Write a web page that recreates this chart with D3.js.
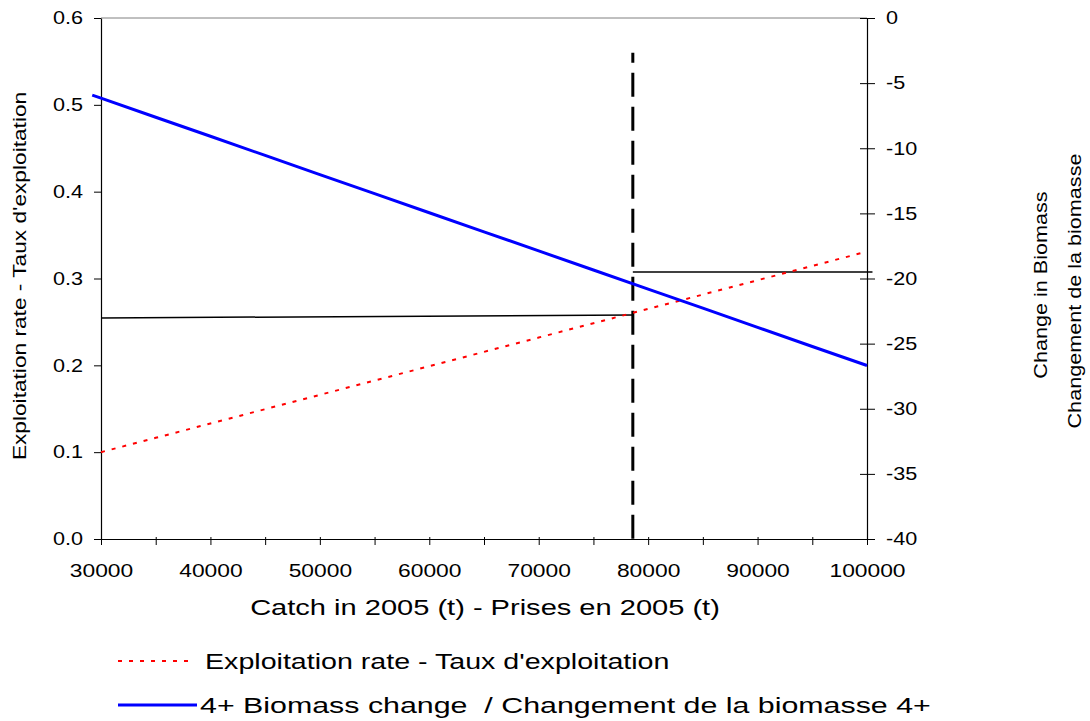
<!DOCTYPE html>
<html>
<head>
<meta charset="utf-8">
<script src="https://cdn.jsdelivr.net/npm/d3@7"></script>
<style>
  html, body { margin: 0; padding: 0; background: #ffffff; }
  svg { display: block; font-family: "Liberation Sans", Arial, sans-serif; }
  text { white-space: pre; }
</style>
</head>
<body>
<svg id="chart" width="1090" height="721"></svg>
<script>
// ---- data ----
const catchValues = [30000, 35000, 40000, 45000, 50000, 55000, 60000, 65000, 70000, 75000, 80000, 85000, 90000, 95000, 100000];
const exploitationRate = [0.100, 0.1165, 0.133, 0.1495, 0.166, 0.1825, 0.199, 0.2155, 0.232, 0.2485, 0.265, 0.2815, 0.298, 0.3145, 0.331];
const biomassCatch = [29200, 30000, 35000, 40000, 45000, 50000, 55000, 60000, 65000, 70000, 75000, 80000, 85000, 90000, 95000, 100000];
const biomassChange = [-5.92, -6.15, -7.62, -9.08, -10.55, -12.02, -13.48, -14.95, -16.42, -17.88, -19.35, -20.82, -22.28, -23.75, -25.22, -26.68];
const refCatch = 78600;
const refLineTop = 0.56;
const refLeftLine = [[30000, 0.2545], [78600, 0.258]];
const refRightLine = [[78600, 0.3075], [100500, 0.3075]];
const xTicks = [30000, 35000, 40000, 45000, 50000, 55000, 60000, 65000, 70000, 75000, 80000, 85000, 90000, 95000, 100000];
const xTickLabels = [30000, 40000, 50000, 60000, 70000, 80000, 90000, 100000];
const yLeftTicks = [0, 0.1, 0.2, 0.3, 0.4, 0.5, 0.6];
const yRightTicks = [0, -5, -10, -15, -20, -25, -30, -35, -40];
const xTitle = "Catch in 2005 (t) - Prises en 2005 (t)";
const yLeftTitle = "Exploitation rate - Taux d'exploitation";
const yRightTitle = ["Change in Biomass", "Changement de la biomasse"];
const legendLabels = ["Exploitation rate - Taux d'exploitation", "4+ Biomass change  / Changement de la biomasse 4+"];

// ---- layout ----
const L = 101, R = 867, T = 18, B = 539;
const svg = d3.select("#chart");
const x = d3.scaleLinear().domain([30000, 100000]).range([L, R]);
const yL = d3.scaleLinear().domain([0, 0.6]).range([B, T]);
const yR = d3.scaleLinear().domain([-40, 0]).range([B, T]);

// top frame line
svg.append("line").attr("x1", L).attr("x2", R).attr("y1", T).attr("y2", T)
  .attr("stroke", "#808080").attr("stroke-width", 1);

// left axis
const gL = svg.append("g").attr("transform", `translate(${L},0)`)
  .call(d3.axisLeft(yL).tickValues(yLeftTicks).tickFormat(d3.format(".1f")).tickSize(7).tickSizeOuter(0));
gL.selectAll("text").attr("x", -18).attr("class", "stretch").attr("data-f", 1.2).attr("font-size", 18);

// right axis
const gR = svg.append("g").attr("transform", `translate(${R},0)`)
  .call(d3.axisRight(yR).tickValues(yRightTicks).tickFormat(d => d3.format("d")(d).replace("\u2212", "-")).tickSize(8).tickSizeOuter(0));
gR.selectAll(".tick line").attr("x1", -7).attr("x2", 8);
gR.selectAll("text").attr("x", 19).attr("class", "stretch").attr("data-f", 1.2).attr("font-size", 18);

// bottom axis
const gB = svg.append("g").attr("transform", `translate(0,${B})`)
  .call(d3.axisBottom(x).tickValues(xTicks).tickFormat(d => xTickLabels.includes(d) ? String(d) : "").tickSize(6).tickSizeOuter(0));
gB.selectAll(".tick line").attr("y1", -2).attr("y2", 6);
gB.selectAll("text").attr("y", 25).attr("dy", "0.71em").attr("class", "stretch").attr("data-f", 1.2).attr("font-size", 19);

[gL, gR, gB].forEach(g => {
  g.selectAll("path.domain").attr("stroke", "#000").attr("stroke-width", 1.2);
  g.selectAll(".tick line").attr("stroke", "#000").attr("stroke-width", 1);
  g.selectAll("text").attr("fill", "#000").attr("font-family", "Liberation Sans, Arial, sans-serif");
});

// reference horizontal lines
const refLine = d3.line().x(d => x(d[0])).y(d => yL(d[1]));
svg.append("path").attr("d", refLine(refLeftLine)).attr("fill", "none").attr("stroke", "#000").attr("stroke-width", 1.5);
svg.append("path").attr("d", refLine(refRightLine)).attr("fill", "none").attr("stroke", "#000").attr("stroke-width", 1.5);

// vertical dashed line
svg.append("line")
  .attr("x1", x(refCatch)).attr("x2", x(refCatch))
  .attr("y1", yL(refLineTop)).attr("y2", yL(0))
  .attr("stroke", "#000").attr("stroke-width", 3)
  .attr("stroke-dasharray", "24,10").attr("stroke-dashoffset", 14);

// exploitation rate (left axis)
const redLine = d3.line().x((d, i) => x(catchValues[i])).y(d => yL(d));
svg.append("path").datum(exploitationRate).attr("d", redLine)
  .attr("fill", "none").attr("stroke", "#ff0000").attr("stroke-width", 2)
  .attr("stroke-dasharray", "4,7");

// biomass change (right axis)
const blueLine = d3.line().x((d, i) => x(biomassCatch[i])).y(d => yR(d));
svg.append("path").datum(biomassChange).attr("d", blueLine)
  .attr("fill", "none").attr("stroke", "#0000ff").attr("stroke-width", 3);

// axis titles
svg.append("text").attr("x", 485).attr("y", 615).attr("text-anchor", "middle")
  .attr("font-size", 22).attr("class", "stretch").attr("data-f", 1.32).text(xTitle);
svg.append("text").attr("transform", "translate(26,276) rotate(-90)").attr("text-anchor", "middle")
  .attr("font-size", 18).attr("class", "stretch").attr("data-f", 1.26).text(yLeftTitle);
svg.append("text").attr("transform", "translate(1047,285) rotate(-90)").attr("text-anchor", "middle")
  .attr("font-size", 18).attr("class", "stretch").attr("data-f", 1.2).text(yRightTitle[0]);
svg.append("text").attr("transform", "translate(1081,291) rotate(-90)").attr("text-anchor", "middle")
  .attr("font-size", 18).attr("class", "stretch").attr("data-f", 1.2).text(yRightTitle[1]);

// legend
const lg = svg.append("g");
lg.append("line").attr("x1", 118).attr("x2", 188).attr("y1", 661).attr("y2", 661)
  .attr("stroke", "#ff0000").attr("stroke-width", 2).attr("stroke-dasharray", "4,7");
lg.append("text").attr("x", 205).attr("y", 669).attr("font-size", 22).attr("class", "stretch").attr("data-f", 1.30).text(legendLabels[0]);
lg.append("line").attr("x1", 118).attr("x2", 197).attr("y1", 705).attr("y2", 705)
  .attr("stroke", "#0000ff").attr("stroke-width", 3);
lg.append("text").attr("x", 200).attr("y", 713).attr("font-size", 22).attr("class", "stretch").attr("data-f", 1.38).text(legendLabels[1]);

// widen glyphs to match the reference's wide text rendering
svg.selectAll("text.stretch").each(function() {
  const len = this.getComputedTextLength();
  const f = +this.getAttribute("data-f") || 1.2;
  if (len > 0) {
    d3.select(this).attr("textLength", len * f).attr("lengthAdjust", "spacingAndGlyphs");
  }
});
</script>
</body>
</html>
